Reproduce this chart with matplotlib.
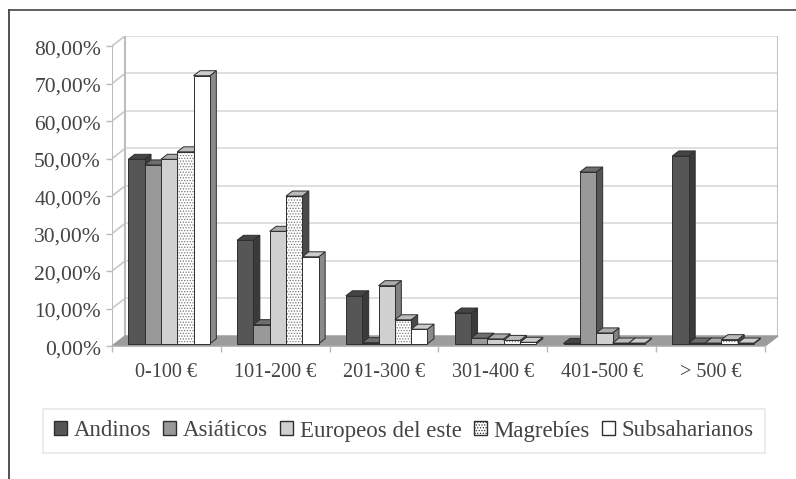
import matplotlib
matplotlib.use("Agg")
import matplotlib.pyplot as plt
from matplotlib.lines import Line2D
from matplotlib.patches import Patch
from matplotlib.transforms import ScaledTranslation

plt.rcParams["font.family"] = ["Liberation Serif", "DejaVu Serif"]
plt.rcParams["hatch.linewidth"] = 0.6

categorias = ["0-100 €", "101-200 €", "201-300 €", "301-400 €", "401-500 €", "> 500 €"]
andinos = [49.2, 27.6, 12.8, 8.2, 0.1, 50.1]
asiaticos = [47.7, 5.1, 0.3, 1.5, 45.8, 0.2]
europeos = [49.2, 30.0, 15.5, 1.3, 2.9, 0.2]
magrebies = [51.2, 39.4, 6.4, 0.9, 0.2, 1.1]
subsaharianos = [71.5, 23.2, 3.9, 0.4, 0.2, 0.2]
y_ticks = [0, 10, 20, 30, 40, 50, 60, 70, 80]

series = [
    ("Andinos", andinos, "#565656", "#3a3a3a", "#444444", None),
    ("Asiáticos", asiaticos, "#999999", "#555555", "#6e6e6e", None),
    ("Europeos del este", europeos, "#d0d0d0", "#808080", "#aaaaaa", None),
    ("Magrebíes", magrebies, "#ffffff", "#4a4a4a", "#bbbbbb", "......"),
    ("Subsaharianos", subsaharianos, "#ffffff", "#8a8a8a", "#cccccc", None),
]

TEXTO = "#444444"
BORDE = "#2e2e2e"
W, H = 796, 479

fig = plt.figure(figsize=(W / 100, H / 100), dpi=100)
ax = fig.add_axes([112 / W, 1 - 346 / H, (778 - 112) / W, (346 - 36) / H])

# profundidad de la pared trasera, en unidades de datos
px_x = 108.83
px_y = 3.7375
dx = 13 / px_x
dy = 10 / px_y
ax.set_xlim(-0.5, 5.5 + dx)
ax.set_ylim(0, 80 + dy)
ax.patch.set_visible(False)
for lado in ax.spines.values():
    lado.set_visible(False)

# suelo y paredes
ax.fill([-0.5, 5.5, 5.5 + dx, -0.5 + dx], [0, 0, dy, dy], color="#9c9c9c", zorder=1, clip_on=False)
for v in y_ticks[1:]:
    ax.plot([-0.5 + dx, 5.5 + dx], [v + dy, v + dy], color="#dcdcdc", lw=1.3, zorder=0.5)
    ax.plot([-0.5, -0.5 + dx], [v, v + dy], color="#c8c8c8", lw=1.2, zorder=0.6)
ax.plot([-0.5 + dx, -0.5 + dx], [dy, 80 + dy], color="#bdbdbd", lw=1.5, zorder=0.7)
ax.plot([5.5 + dx, 5.5 + dx], [dy, 80 + dy], color="#c4c4c4", lw=1.5, zorder=0.7)
ax.plot([-0.5, -0.5], [0, 80], color="#bdbdbd", lw=1.5, zorder=0.7)
ax.plot([-0.5, 5.5], [0, 0], color="#a8a8a8", lw=1.2, zorder=1.1)

# barras con cara frontal, lateral y superior
ancho = 0.15
prof = dx * 0.5
sx = dx * 0.2
sy = dy * 0.22
orden = 2
for j, (nombre, valores, cara, lateral, tapa, trama) in enumerate(series):
    for i, v in enumerate(valores):
        x0 = i - 2.5 * ancho + j * ancho + sx
        x1 = x0 + ancho
        z = orden + i * 10 + j
        ax.fill([x1, x1 + prof, x1 + prof, x1], [sy, sy + dy * 0.5, v + sy + dy * 0.5, v + sy],
                facecolor=lateral, edgecolor=BORDE, lw=0.7, zorder=z)
        ax.fill([x0, x1, x1 + prof, x0 + prof], [v + sy, v + sy, v + sy + dy * 0.5, v + sy + dy * 0.5],
                facecolor=tapa, edgecolor=BORDE, lw=0.7, zorder=z)
        ax.bar(x0, v, width=ancho, bottom=sy, align="edge", color=cara, edgecolor="#777777" if trama else BORDE,
               hatch=trama, lw=0.7, zorder=z + 0.1)
        if trama:
            ax.bar(x0, v, width=ancho, bottom=sy, align="edge", fill=False, edgecolor=BORDE, lw=0.7, zorder=z + 0.2)

ax.set_xticks(range(6))
ax.set_xticklabels(categorias, fontsize=14.5, color=TEXTO)
ax.tick_params(axis="x", which="major", length=0, pad=12)
ax.set_xticks([i - 0.5 for i in range(7)], minor=True)
ax.tick_params(axis="x", which="minor", length=4, width=1, color="#bbbbbb")
ax.set_yticks(y_ticks)
ax.set_yticklabels([f"{v},00%" for v in y_ticks], fontsize=15.5, color=TEXTO)
ax.tick_params(axis="y", length=4, width=1, color="#bbbbbb", pad=4)
bajar = ScaledTranslation(0, -1.5 / 100, fig.dpi_scale_trans)
for etiqueta in ax.get_yticklabels():
    etiqueta.set_transform(etiqueta.get_transform() + bajar)

# leyenda
marcas = [Patch(facecolor=s[2], edgecolor=BORDE, hatch=s[5], lw=1.0) for s in series]
ley = fig.legend(marcas, [s[0] for s in series], ncol=5, loc="center",
                 bbox_to_anchor=(404 / W, 1 - 431 / H), fontsize=16.5, frameon=True, fancybox=False,
                 handlelength=0.55, handleheight=0.55, handletextpad=0.3, columnspacing=0.54,
                 labelcolor=TEXTO, borderpad=0.5, borderaxespad=0)
ley.get_frame().set_edgecolor("#e2e2e2")
ley.get_frame().set_linewidth(1.2)

# marco de la figura
fig.add_artist(Line2D([9 / W, 9 / W], [0, 1 - 9.5 / H], color="#333333", lw=1.2))
fig.add_artist(Line2D([9 / W, 1], [1 - 9.5 / H, 1 - 9.5 / H], color="#444444", lw=1.2))

fig.savefig("out.png", dpi=100)
